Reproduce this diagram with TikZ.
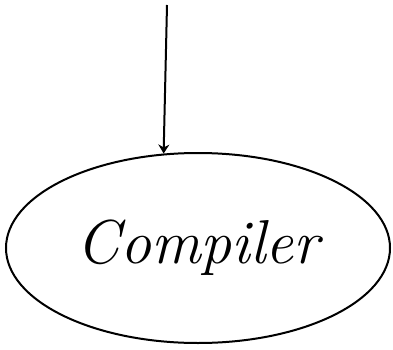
\documentclass[tikz,border=0pt]{standalone}
\usepackage{tikz}
\usetikzlibrary{arrows.meta,shapes.geometric}
\tikzset{
  >={Stealth[length=9pt,width=11pt]},
  proc/.style ={ellipse,draw=black,line width=2pt,minimum width=384pt,
                minimum height=190pt,inner sep=0pt,
                font=\fontsize{62}{66}\selectfont\itshape},
  ar/.style   ={->,line width=2pt,black},
}
\begin{document}
\begin{tikzpicture}[x=1pt,y=-1pt]
\useasboundingbox (0,0) rectangle (393,350);
% the compiler box
\node[proc] (comp) at (198,248) {Compiler};
% incoming program
\coordinate (src) at (167,5);
\draw[ar] (src) -- (comp.110);
\end{tikzpicture}
\end{document}
